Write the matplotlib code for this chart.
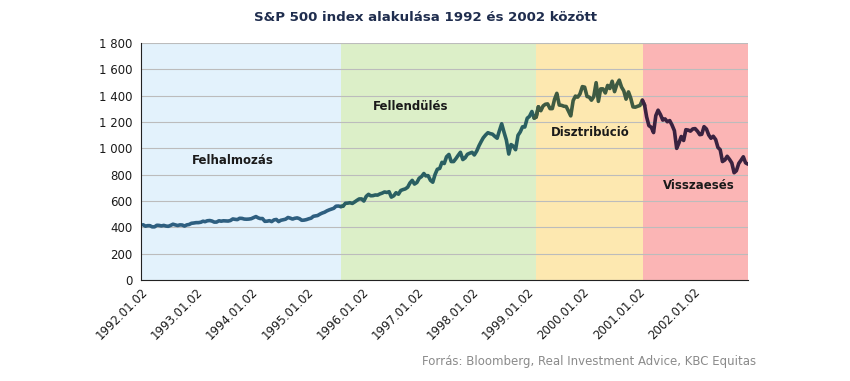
import numpy as np
import pandas as pd
import matplotlib
matplotlib.use("Agg")
import matplotlib.pyplot as plt
import matplotlib.dates as mdates
from matplotlib.ticker import FuncFormatter

plt.close("all")

# S&P 500 levels, twice a month (mid-month, month end)
sp500 = [
    # 1992
    420, 409, 413, 413, 404, 404, 416, 415, 411, 415, 410, 408,
    415, 424, 419, 414, 419, 418, 410, 419, 422, 431, 433, 436,
    # 1993
    436, 439, 447, 443, 450, 452, 448, 440, 440, 450, 447, 450,
    449, 448, 452, 464, 461, 459, 469, 468, 463, 462, 463, 466,
    # 1994
    474, 482, 472, 467, 467, 446, 447, 451, 444, 457, 460, 444,
    454, 458, 462, 475, 470, 463, 469, 472, 466, 454, 455, 459,
    # 1995
    465, 470, 484, 487, 490, 501, 509, 515, 525, 533, 539, 545,
    561, 562, 558, 562, 583, 584, 587, 582, 593, 605, 616, 616,
    # 1996
    600, 636, 651, 640, 641, 646, 645, 654, 660, 669, 665, 671,
    630, 640, 663, 652, 680, 687, 692, 705, 737, 757, 729, 741,
    # 1997
    773, 786, 809, 791, 793, 757, 743, 801, 841, 848, 894, 885,
    936, 954, 900, 900, 922, 947, 970, 915, 928, 955, 963, 970,
    # 1998
    950, 980, 1020, 1049, 1080, 1102, 1119, 1112, 1108, 1091, 1077, 1134,
    1187, 1121, 1063, 957, 1029, 1017, 990, 1099, 1125, 1164, 1162, 1229,
    # 1999
    1243, 1280, 1230, 1238, 1316, 1286, 1322, 1335, 1338, 1302, 1302, 1373,
    1418, 1329, 1327, 1320, 1318, 1283, 1247, 1363, 1397, 1389, 1413, 1469,
    # 2000
    1465, 1394, 1389, 1366, 1392, 1499, 1357, 1452, 1452, 1421, 1478, 1455,
    1510, 1431, 1485, 1518, 1466, 1437, 1374, 1429, 1382, 1315, 1313, 1320,
    # 2001
    1326, 1366, 1327, 1240, 1173, 1160, 1120, 1249, 1290, 1256, 1215, 1224,
    1202, 1211, 1178, 1134, 1000, 1041, 1090, 1060, 1142, 1139, 1131, 1148,
    # 2002
    1150, 1130, 1104, 1107, 1165, 1147, 1102, 1077, 1092, 1067, 1007, 990,
    900, 912, 940, 916, 889, 815, 830, 886, 910, 936, 890, 880,
]
dates = pd.date_range("1992-01-15", periods=len(sp500), freq="SM")

phase_names = ["Felhalmozás", "Fellendülés", "Disztribúció", "Visszaesés"]
phase_starts = ["1992-01-02", "1995-08-20", "1999-03-01", "2001-02-01"]
phase_ends = ["1995-08-20", "1999-03-01", "2001-02-01", "2002-12-31"]
phase_bg = ["#e3f2fc", "#dcefc8", "#fde8b0", "#fbb5b5"]
phase_line = ["#2e5f80", "#2a5f62", "#3f5b42", "#3a2240"]
label_x = ["1993-09-01", "1996-11-20", "2000-02-20", "2002-02-10"]
label_y = [910, 1320, 1120, 720]

years = list(range(1992, 2003))

fig = plt.figure(figsize=(8.5, 3.81), dpi=100)
ax = fig.add_axes([0.166, 0.265, 0.714, 0.622])

s = pd.Series(sp500, index=dates)
for i in range(4):
    start = pd.Timestamp(phase_starts[i])
    end = pd.Timestamp(phase_ends[i])
    ax.axvspan(start, end, color=phase_bg[i], zorder=0, lw=0)
    seg = s[(s.index >= start - pd.Timedelta(days=16)) & (s.index <= end + pd.Timedelta(days=16))]
    ax.plot(seg.index, seg.values, color=phase_line[i], lw=2.6, zorder=3,
            solid_joinstyle="round", solid_capstyle="round")
    ax.text(pd.Timestamp(label_x[i]), label_y[i], phase_names[i],
            ha="center", va="center", fontsize=8.5, fontweight="bold",
            color="#1a1a1a", zorder=4)

ax.set_xlim(pd.Timestamp("1992-01-02"), pd.Timestamp("2002-12-31"))
ax.set_ylim(0, 1800)
ax.set_yticks(np.arange(0, 1801, 200))
ax.yaxis.set_major_formatter(FuncFormatter(lambda v, p: f"{v:,.0f}".replace(",", " ")))
ax.set_xticks([pd.Timestamp(f"{y}-01-02") for y in years])
ax.xaxis.set_major_formatter(mdates.DateFormatter("%Y.%m.%d"))
for lab in ax.get_xticklabels():
    lab.set_rotation(45)
    lab.set_ha("right")
    lab.set_rotation_mode("anchor")
ax.tick_params(axis="both", length=0, labelsize=8.5, colors="#1a1a1a")
ax.tick_params(axis="y", pad=6)
ax.tick_params(axis="x", pad=4)

ax.grid(axis="y", color="#bcbcbc", lw=0.8, zorder=1)
ax.set_axisbelow(True)
for side in ["top", "right"]:
    ax.spines[side].set_visible(False)
ax.spines["left"].set_color("#222222")
ax.spines["bottom"].set_color("#222222")
ax.spines["left"].set_zorder(5)
ax.spines["bottom"].set_zorder(5)

fig.text(0.5, 0.955, "S&P 500 index alakulása 1992 és 2002 között",
         ha="center", va="center", fontsize=9.6, fontweight="bold", color="#1f2d4e")
fig.text(0.89, 0.05, "Forrás: Bloomberg, Real Investment Advice, KBC Equitas",
         ha="right", va="center", fontsize=8.5, color="#8a8a8a")

fig.savefig("out.png", dpi=100)
